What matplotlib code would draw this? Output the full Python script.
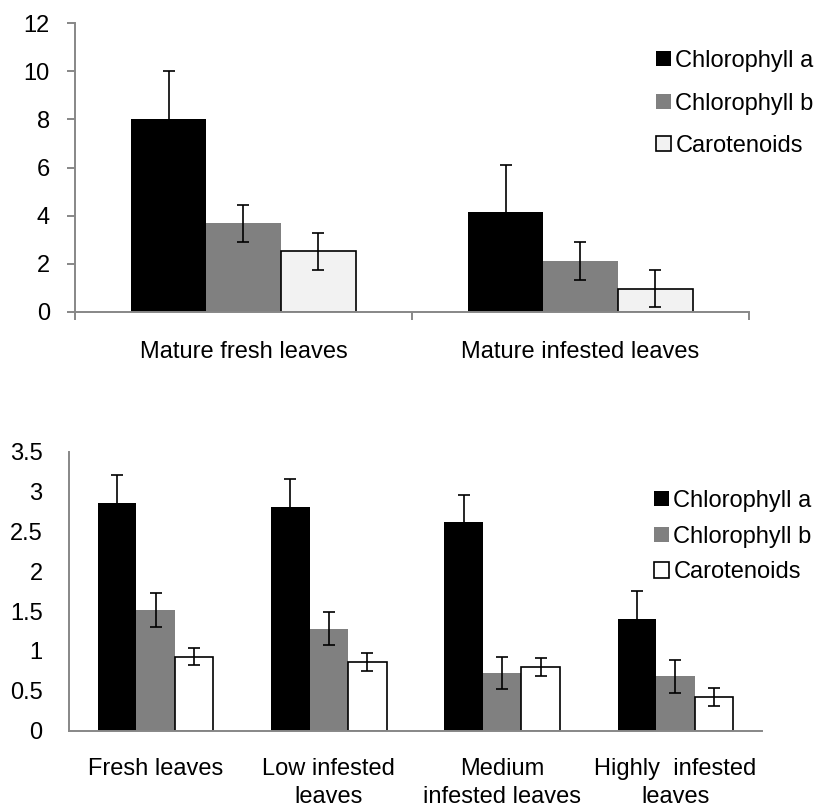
import matplotlib
matplotlib.use("Agg")
import matplotlib.pyplot as plt
from matplotlib.patches import Patch
import numpy as np

plt.rcParams["font.family"] = ["Liberation Sans", "DejaVu Sans"]
FS = 17

# Upper panel: mature leaves
top_categories = ["Mature fresh leaves", "Mature infested leaves"]
top_chl_a = [8.02, 4.15]
top_chl_a_err = [1.97, 1.96]
top_chl_b = [3.68, 2.12]
top_chl_b_err = [0.78, 0.80]
top_carot = [2.53, 0.96]
top_carot_err = [0.77, 0.77]
top_yticks = [0, 2, 4, 6, 8, 10, 12]

# Lower panel: infestation levels
bot_categories = ["Fresh leaves", "Low infested\nleaves", "Medium\ninfested leaves",
                  "Highly  infested\nleaves"]
bot_chl_a = [2.86, 2.80, 2.62, 1.40]
bot_chl_a_err = [0.35, 0.36, 0.34, 0.35]
bot_chl_b = [1.51, 1.28, 0.72, 0.68]
bot_chl_b_err = [0.21, 0.21, 0.20, 0.21]
bot_carot = [0.93, 0.86, 0.80, 0.42]
bot_carot_err = [0.11, 0.11, 0.115, 0.115]
bot_yticks = [0, 0.5, 1, 1.5, 2, 2.5, 3, 3.5]
bot_yticklabels = ["0", "0.5", "1", "1.5", "2", "2.5", "3", "3.5"]

series_names = ["Chlorophyll a", "Chlorophyll b", "Carotenoids"]
AXIS_GREY = "#878787"
W = 0.2222


def draw_bars(ax, values, errs, fills, edges):
    x = np.arange(len(values[0]))
    for i, (v, e, fc, ec) in enumerate(zip(values, errs, fills, edges)):
        pos = x + (i - 1) * W
        ax.bar(pos, v, width=W, color=fc, edgecolor=ec,
               linewidth=1.2 if ec != "none" else 0, zorder=2)
        ax.errorbar(pos, v, yerr=e, fmt="none", ecolor="black",
                    elinewidth=1.2, capsize=4, capthick=1.2, zorder=3)
    ax.set_xlim(-0.5, len(values[0]) - 0.5)


def style_axes(ax):
    for s in ("top", "right"):
        ax.spines[s].set_visible(False)
    for s in ("left", "bottom"):
        ax.spines[s].set_color(AXIS_GREY)
        ax.spines[s].set_linewidth(1.4)


fig = plt.figure(figsize=(8.2, 8.1), dpi=100)

# ---- upper panel ----
ax1 = fig.add_axes([75 / 820, 1 - 312 / 810, 674 / 820, 289 / 810])
draw_bars(ax1, [top_chl_a, top_chl_b, top_carot],
          [top_chl_a_err, top_chl_b_err, top_carot_err],
          ["black", "#808080", "#f2f2f2"], ["none", "none", "black"])
ax1.set_ylim(0, 12)
ax1.set_yticks(top_yticks)
ax1.set_yticklabels([str(t) for t in top_yticks])
style_axes(ax1)
ax1.tick_params(axis="y", direction="out", length=6, width=1.4, color=AXIS_GREY,
                pad=12, labelsize=FS)
ax1.set_xticks(np.arange(len(top_categories)))
ax1.set_xticklabels(top_categories)
ax1.set_xticks(np.arange(len(top_categories) + 1) - 0.5, minor=True)
ax1.tick_params(axis="x", which="major", length=0, pad=21, labelsize=FS)
ax1.tick_params(axis="x", which="minor", direction="out", length=6, width=1.4,
                color=AXIS_GREY)

handles1 = [Patch(facecolor="black", edgecolor="none"),
            Patch(facecolor="#808080", edgecolor="none"),
            Patch(facecolor="#f2f2f2", edgecolor="black", linewidth=1.2)]
ax1.legend(handles1, series_names, loc="upper left",
           bbox_to_anchor=(656 / 820, 1 - 50 / 810), bbox_transform=fig.transFigure,
           frameon=False, fontsize=FS, borderpad=0, borderaxespad=0,
           handlelength=0.62, handleheight=0.62, handletextpad=0.2, labelspacing=0.87)

# ---- lower panel ----
ax2 = fig.add_axes([69 / 820, 1 - 730.7 / 810, 693 / 820, 279.2 / 810])
draw_bars(ax2, [bot_chl_a, bot_chl_b, bot_carot],
          [bot_chl_a_err, bot_chl_b_err, bot_carot_err],
          ["black", "#808080", "white"], ["none", "none", "black"])
ax2.set_ylim(0, 3.5)
ax2.set_yticks(bot_yticks)
ax2.set_yticklabels(bot_yticklabels)
style_axes(ax2)
ax2.tick_params(axis="y", length=0, pad=19, labelsize=FS)
ax2.set_xticks(np.arange(len(bot_categories)))
ax2.set_xticklabels(bot_categories, linespacing=1.35)
ax2.tick_params(axis="x", length=0, pad=20, labelsize=FS)

handles2 = [Patch(facecolor="black", edgecolor="none"),
            Patch(facecolor="#808080", edgecolor="none"),
            Patch(facecolor="white", edgecolor="black", linewidth=1.2)]
ax2.legend(handles2, series_names, loc="upper left",
           bbox_to_anchor=(654 / 820, 1 - 490 / 810), bbox_transform=fig.transFigure,
           frameon=False, fontsize=FS, borderpad=0, borderaxespad=0,
           handlelength=0.62, handleheight=0.62, handletextpad=0.2, labelspacing=0.58)

fig.savefig("out.png", dpi=100)
